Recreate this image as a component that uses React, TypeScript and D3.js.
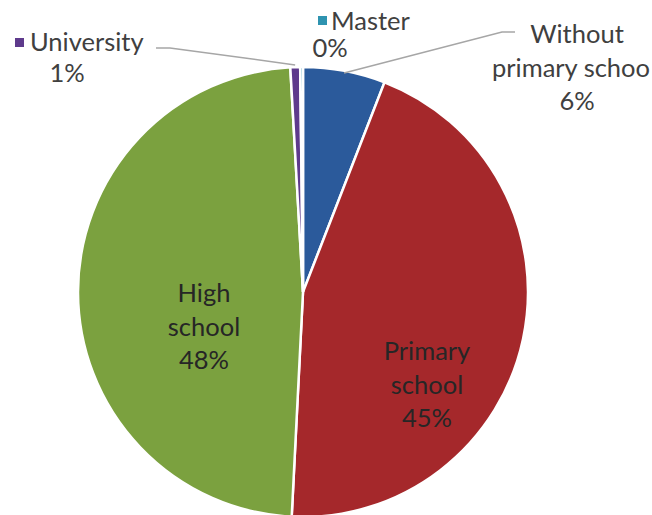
import React from "react";
import * as d3 from "d3";

const categories = ["Without primary school", "Primary school", "High school", "University", "Master"];
const values = [5.9, 44.9, 48.3, 0.7, 0.2];
const percentLabels = ["6%", "45%", "48%", "1%", "0%"];
const colors = ["#2B5A9B", "#A5282B", "#7BA13F", "#5E3A8C", "#2E93B0"];

const W = 652;
const H = 515;
const cx = 303;
const cy = 292;
const R = 225;
const FONT = "Lato, 'Open Sans', sans-serif";
const FS = 25.5;
const TXT = "#404040";
const IN_TXT = "#262626";

export default function App() {
  const pie = d3.pie<number>().sort(null).value((d) => d)(values);
  const arc = d3.arc<d3.PieArcDatum<number>>().innerRadius(0).outerRadius(R);
  const outer = (i: number, k: number) => {
    const a = (pie[i].startAngle + pie[i].endAngle) / 2;
    return [cx + Math.sin(a) * R * k, cy - Math.cos(a) * R * k];
  };
  const wp = outer(0, 0.99);
  const up = outer(3, 1.01);
  const LH = 33.5;
  return (
    <svg width={W} height={H} style={{ position: "absolute", left: 0, top: 0, background: "#fff" }}
      fontFamily={FONT} fontSize={FS} fill={TXT}>
      <g transform={`translate(${cx},${cy})`}>
        {pie.map((p, i) => (
          <path key={categories[i]} d={arc(p) || ""} fill={colors[i]} stroke="#fff" strokeWidth={2.5} />
        ))}
      </g>
      {/* leader lines */}
      <polyline points={`${wp[0]},${wp[1]} 502,32 515,32`} fill="none" stroke="#A6A6A6" strokeWidth={1.5} />
      <polyline points={`${up[0]},${up[1]} 170,48 156,48`} fill="none" stroke="#A6A6A6" strokeWidth={1.5} />
      {/* inside labels */}
      <g textAnchor="middle" fill={IN_TXT}>
        <text x={204} y={302}>
          <tspan x={204} dy={0}>High</tspan>
          <tspan x={204} dy={LH}>school</tspan>
          <tspan x={204} dy={LH}>{percentLabels[2]}</tspan>
        </text>
        <text x={427} y={360}>
          <tspan x={427} dy={0}>Primary</tspan>
          <tspan x={427} dy={LH}>school</tspan>
          <tspan x={427} dy={LH}>{percentLabels[1]}</tspan>
        </text>
      </g>
      <g textAnchor="middle">
        {/* Without primary school */}
        <text x={577} y={43}>Without</text>
        <text x={571} y={77}>primary schoo</text>
        <text x={577} y={110}>{percentLabels[0]}</text>
        {/* Master */}
        <text x={330} y={57}>{percentLabels[4]}</text>
        {/* University */}
        <text x={67} y={82}>{percentLabels[3]}</text>
      </g>
      <rect x={318} y={16} width={9} height={9} fill={colors[4]} />
      <text x={331} y={30}>Master</text>
      <rect x={15} y={38} width={9} height={9} fill={colors[3]} />
      <text x={30} y={51}>University</text>
    </svg>
  );
}
